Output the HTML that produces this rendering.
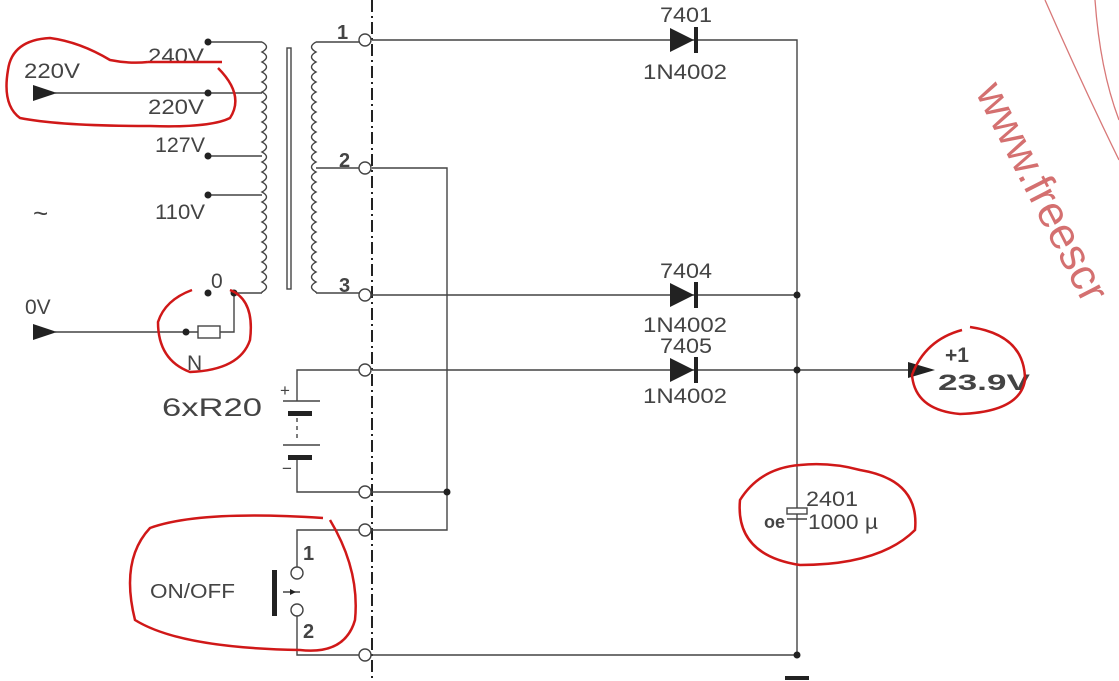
<!DOCTYPE html>
<html><head><meta charset="utf-8"><style>
html,body{margin:0;padding:0;background:#fff;}
svg{display:block;}
text{font-family:"Liberation Sans",sans-serif;fill:#444;}
</style></head><body>
<svg width="1119" height="681" viewBox="0 0 1119 681" xmlns="http://www.w3.org/2000/svg">
<rect width="1119" height="681" fill="#fff"/>
<g stroke="#444" stroke-width="1.4" fill="none">
<line x1="372" y1="0" x2="372" y2="681" stroke-dasharray="12,4,2,4" stroke-width="2" stroke="#222"/>
<path d="M262 42 q9 5 0 10 q9 5 0 10 q9 5 0 10 q9 5 0 10 q9 5 0 10 q9 5 0 10 q9 5 0 10 q9 5 0 10 q9 5 0 10 q9 5 0 10 q9 5 0 10 q9 5 0 10 q9 5 0 10 q9 5 0 10 q9 5 0 10 q9 5 0 10 q9 5 0 10 q9 5 0 10 q9 5 0 10 q9 5 0 10 q9 5 0 10 q9 5 0 10 q9 5 0 10 q9 5 0 10 q9 5 0 10 l0 1"/>
<path d="M208 42 H262 M55 93 H262 M208 156 H262 M208 195 H262 M234 293 H262"/>
<rect x="287" y="48" width="4" height="241"/>
<path d="M316 42 q-9 5 0 10 q-9 5 0 10 q-9 5 0 10 q-9 5 0 10 q-9 5 0 10 q-9 5 0 10 q-9 5 0 10 q-9 5 0 10 q-9 5 0 10 q-9 5 0 10 q-9 5 0 10 q-9 5 0 10 q-9 5 0 10 q-9 5 0 10 q-9 5 0 10 q-9 5 0 10 q-9 5 0 10 q-9 5 0 10 q-9 5 0 10 q-9 5 0 10 q-9 5 0 10 q-9 5 0 10 q-9 5 0 10 q-9 5 0 10 q-9 5 0 10 l0 1"/>
<path d="M316 42 H359 M316 168 H359 M316 293 H359"/>
<path d="M55 332 H198 M220 332 H234 V293"/>
<rect x="198" y="326" width="22" height="12"/>
<path d="M372 40 H797 V655 M372 168 H447 V530 H372 M372 295 H797 M372 370 H910 M372 492 H447 M372 655 H797"/>
<path d="M359 370 H297 V401 M283 401 H320 M297 458 V492 H359 M283 445 H320"/>
<line x1="297" y1="418" x2="297" y2="442" stroke-dasharray="4,4"/>
<path d="M359 530 H297 V567 M297 616 V655 H359 M283 592 H300"/>
<circle cx="365" cy="40" r="6" fill="#fff"/>
<circle cx="365" cy="168" r="6" fill="#fff"/>
<circle cx="365" cy="295" r="6" fill="#fff"/>
<circle cx="365" cy="370" r="6" fill="#fff"/>
<circle cx="365" cy="492" r="6" fill="#fff"/>
<circle cx="365" cy="530" r="6" fill="#fff"/>
<circle cx="365" cy="655" r="6" fill="#fff"/>
<circle cx="297" cy="573" r="6" fill="#fff"/>
<circle cx="297" cy="610" r="6" fill="#fff"/>
<rect x="787" y="508" width="20" height="6" fill="#fff"/>
<line x1="787" y1="519" x2="807" y2="519"/>
</g>
<g fill="#222" stroke="none">
<polygon points="33,85 33,101 57,93"/>
<polygon points="33,324 33,340 57,332"/>
<circle cx="208" cy="42" r="3.5"/><circle cx="208" cy="93" r="3.5"/><circle cx="208" cy="156" r="3.5"/><circle cx="208" cy="195" r="3.5"/>
<circle cx="208" cy="293" r="3.5"/><circle cx="234" cy="293" r="3.5"/><circle cx="186" cy="332" r="3.5"/>
<circle cx="447" cy="492" r="3.5"/><circle cx="797" cy="295" r="3.5"/><circle cx="797" cy="370" r="3.5"/><circle cx="797" cy="655" r="3.5"/>
<polygon points="670,28 670,52 694,40"/><rect x="694" y="27" width="4" height="26"/>
<polygon points="670,283 670,307 694,295"/><rect x="694" y="282" width="4" height="26"/>
<polygon points="670,358 670,382 694,370"/><rect x="694" y="357" width="4" height="26"/>
<polygon points="908,362 908,378 935,370"/>
<rect x="288" y="411" width="24" height="5"/><rect x="288" y="455" width="24" height="5"/>
<rect x="272" y="570" width="5" height="46"/>
<rect x="785" y="676" width="24" height="4"/>
<polygon points="296,592 290,589 290,595"/>
</g>
<g font-size="21">
<text x="24" y="78" textLength="56" lengthAdjust="spacingAndGlyphs">220V</text>
<text x="148" y="63" textLength="56" lengthAdjust="spacingAndGlyphs">240V</text>
<text x="148" y="114" textLength="56" lengthAdjust="spacingAndGlyphs">220V</text>
<text x="155" y="152" textLength="50" lengthAdjust="spacingAndGlyphs">127V</text>
<text x="155" y="219" textLength="50" lengthAdjust="spacingAndGlyphs">110V</text>
<text x="33" y="222" font-size="26">~</text>
<text x="25" y="314">0V</text>
<text x="211" y="288">0</text>
<text x="187" y="370">N</text>
<text x="150" y="598" font-size="20" textLength="85" lengthAdjust="spacingAndGlyphs">ON/OFF</text>
<text x="660" y="22" textLength="52" lengthAdjust="spacingAndGlyphs">7401</text><text x="643" y="79" textLength="84" lengthAdjust="spacingAndGlyphs">1N4002</text>
<text x="660" y="278" textLength="52" lengthAdjust="spacingAndGlyphs">7404</text><text x="643" y="332" textLength="84" lengthAdjust="spacingAndGlyphs">1N4002</text>
<text x="660" y="353" textLength="52" lengthAdjust="spacingAndGlyphs">7405</text><text x="643" y="403" textLength="84" lengthAdjust="spacingAndGlyphs">1N4002</text>
<text x="806" y="506" textLength="52" lengthAdjust="spacingAndGlyphs">2401</text><text x="808" y="529" textLength="70" lengthAdjust="spacingAndGlyphs">1000 µ</text>
</g>
<g font-size="20" font-weight="bold" fill="#222">
<text x="337" y="39">1</text><text x="339" y="167">2</text><text x="339" y="292">3</text>
<text x="303" y="560">1</text><text x="303" y="638">2</text>
<text x="162" y="416" font-weight="normal" font-size="25" textLength="100" lengthAdjust="spacingAndGlyphs">6xR20</text>
<text x="764" y="528" font-size="18">oe</text>
<text x="280" y="396" font-weight="normal" font-size="17">+</text>
<text x="282" y="474" font-weight="normal" font-size="17">−</text>
<text x="945" y="362" font-size="21">+1</text>
<text x="938" y="390" font-size="22" textLength="92" lengthAdjust="spacingAndGlyphs">23.9V</text>
</g>
<g stroke="#d01818" stroke-width="2.5" fill="none">
<path d="M148 62 Q200 62 222 62 M218 68 Q245 95 230 118 Q210 128 150 126 Q60 126 20 118 Q2 105 8 70 Q12 40 50 38 Q80 42 110 60 Q130 64 148 62"/>
<path d="M192 290 Q165 300 158 322 Q158 360 190 372 Q240 370 250 340 Q255 300 230 290"/>
<path d="M323 518 Q200 510 150 528 Q120 560 135 620 Q180 648 300 650 Q345 655 355 620 Q360 570 330 520"/>
<path d="M962 330 Q925 340 912 375 Q915 410 960 414 Q1020 412 1025 380 Q1025 335 970 327"/>
<path d="M800 465 Q760 468 740 500 Q735 555 800 565 Q880 565 915 530 Q920 480 860 470 Q830 462 800 465"/>
</g>
<g stroke="#d87878" stroke-width="1.3" fill="none">
<path d="M1045 0 Q1080 80 1119 160"/>
<path d="M1095 0 Q1100 70 1119 120"/>
</g>
<text transform="translate(975,92) rotate(63)" font-family="Liberation Serif,serif" font-size="44" style="fill:#d47070">www.freescr</text>
</svg>
</body></html>
